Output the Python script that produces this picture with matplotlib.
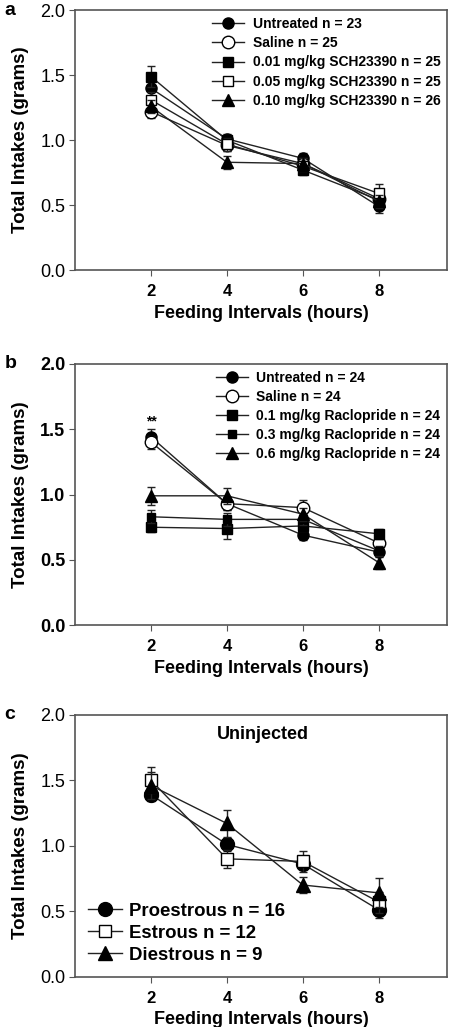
import matplotlib.pyplot as plt

plt.rcParams['font.family'] = ['Liberation Sans', 'DejaVu Sans']

hours = [2, 4, 6, 8]

# panel a - SCH23390
a_labels = ['Untreated n = 23', 'Saline n = 25', '0.01 mg/kg SCH23390 n = 25',
            '0.05 mg/kg SCH23390 n = 25', '0.10 mg/kg SCH23390 n = 26']
a_untreated = [1.40, 1.01, 0.86, 0.49]
a_saline = [1.22, 0.96, 0.82, 0.55]
a_sch001 = [1.49, 1.00, 0.77, 0.54]
a_sch005 = [1.31, 0.97, 0.80, 0.59]
a_sch010 = [1.26, 0.83, 0.82, 0.53]
a_err_untreated = [0.06, 0.04, 0.04, 0.05]
a_err_saline = [0.05, 0.04, 0.04, 0.05]
a_err_sch001 = [0.08, 0.04, 0.04, 0.05]
a_err_sch005 = [0.06, 0.05, 0.04, 0.07]
a_err_sch010 = [0.05, 0.05, 0.04, 0.05]

# panel b - Raclopride
b_labels = ['Untreated n = 24', 'Saline n = 24', '0.1 mg/kg Raclopride n = 24',
            '0.3 mg/kg Raclopride n = 24', '0.6 mg/kg Raclopride n = 24']
b_untreated = [1.44, 0.93, 0.69, 0.56]
b_saline = [1.40, 0.93, 0.90, 0.63]
b_rac01 = [0.75, 0.74, 0.76, 0.70]
b_rac03 = [0.83, 0.81, 0.81, 0.57]
b_rac06 = [0.99, 0.99, 0.85, 0.48]
b_err_untreated = [0.06, 0.05, 0.04, 0.04]
b_err_saline = [0.05, 0.05, 0.06, 0.05]
b_err_rac01 = [0.04, 0.08, 0.04, 0.04]
b_err_rac03 = [0.05, 0.05, 0.04, 0.04]
b_err_rac06 = [0.07, 0.06, 0.05, 0.05]

# panel c - estrous cycle
c_labels = ['Proestrous n = 16', 'Estrous n = 12', 'Diestrous n = 9']
c_pro = [1.39, 1.01, 0.86, 0.51]
c_est = [1.50, 0.90, 0.88, 0.57]
c_die = [1.46, 1.17, 0.70, 0.64]
c_err_pro = [0.05, 0.05, 0.04, 0.06]
c_err_est = [0.10, 0.07, 0.08, 0.08]
c_err_die = [0.10, 0.10, 0.06, 0.11]

fig = plt.figure(figsize=(4.49, 10.27), dpi=100)
ax_a = fig.add_axes([0.167, 0.737, 0.829, 0.253])
ax_b = fig.add_axes([0.167, 0.391, 0.829, 0.255])
ax_c = fig.add_axes([0.167, 0.049, 0.829, 0.255])

styles5 = [dict(marker='o', mfc='black', ms=8),
           dict(marker='o', mfc='white', ms=9),
           dict(marker='s', mfc='black', ms=7.5),
           dict(marker='s', mfc='white', ms=7.5),
           dict(marker='^', mfc='black', ms=8)]


def draw(ax, series, errs, labels, styles):
    for ys, es, lab, st in zip(series, errs, labels, styles):
        ax.errorbar(hours, ys, yerr=es, fmt='none', ecolor='#222222',
                    capsize=3, elinewidth=1.0, capthick=1.0)
        ax.plot(hours, ys, color='#222222', lw=1.0, mec='black', mew=1.0,
                label=lab, **st)


draw(ax_a, [a_untreated, a_saline, a_sch001, a_sch005, a_sch010],
     [a_err_untreated, a_err_saline, a_err_sch001, a_err_sch005, a_err_sch010],
     a_labels, styles5)

styles_b = list(styles5)
styles_b[3] = dict(marker='s', mfc='black', ms=6)
draw(ax_b, [b_untreated, b_saline, b_rac01, b_rac03, b_rac06],
     [b_err_untreated, b_err_saline, b_err_rac01, b_err_rac03, b_err_rac06],
     b_labels, styles_b)
ax_b.text(2, 1.56, '**', ha='center', va='center', fontsize=10, fontweight='bold')

styles_c = [dict(marker='o', mfc='black', ms=10),
            dict(marker='s', mfc='white', ms=9),
            dict(marker='^', mfc='black', ms=10)]
draw(ax_c, [c_pro, c_est, c_die], [c_err_pro, c_err_est, c_err_die],
     c_labels, styles_c)
ax_c.text(4.95, 1.85, 'Uninjected', ha='center', va='center', fontsize=13,
          fontweight='bold')

for ax, letter, boldy in [(ax_a, 'a', False), (ax_b, 'b', True), (ax_c, 'c', False)]:
    ax.set_xlim(0, 9.8)
    ax.set_ylim(0, 2.0)
    ax.set_xticks(hours)
    ax.set_yticks([0.0, 0.5, 1.0, 1.5, 2.0])
    ax.set_yticklabels(['0.0', '0.5', '1.0', '1.5', '2.0'],
                       fontweight='bold' if boldy else 'normal')
    for lab in ax.get_xticklabels():
        lab.set_fontweight('bold')
    ax.tick_params(axis='y', labelsize=13, length=4, color='#555555',
                   direction='out', pad=3)
    ax.tick_params(axis='x', labelsize=12, length=4, color='#555555',
                   direction='out', pad=6)
    for sp in ax.spines.values():
        sp.set_color('#555555')
        sp.set_linewidth(1.2)
    ax.set_xlabel('Feeding Intervals (hours)', fontsize=13, fontweight='bold',
                  labelpad=4)
    ax.set_ylabel('Total Intakes (grams)', fontsize=13.5, fontweight='bold',
                  labelpad=8)
    ax.text(-0.19, 1.0, letter, transform=ax.transAxes, fontsize=14,
            fontweight='bold', ha='left', va='center')

leg_kw = dict(frameon=False, handlelength=2.3, handletextpad=0.6,
              borderaxespad=0.1, borderpad=0.4,
              prop={'weight': 'bold', 'size': 10}, labelspacing=0.37)
ax_a.legend(loc='upper right', **leg_kw)
ax_b.legend(loc='upper right', **leg_kw)
ax_c.legend(loc='lower left', frameon=False, handlelength=1.8, handletextpad=0.4,
            borderaxespad=0.3, borderpad=0.4,
            prop={'weight': 'bold', 'size': 13.4}, labelspacing=0.26)

fig.savefig('out.png', dpi=100)
